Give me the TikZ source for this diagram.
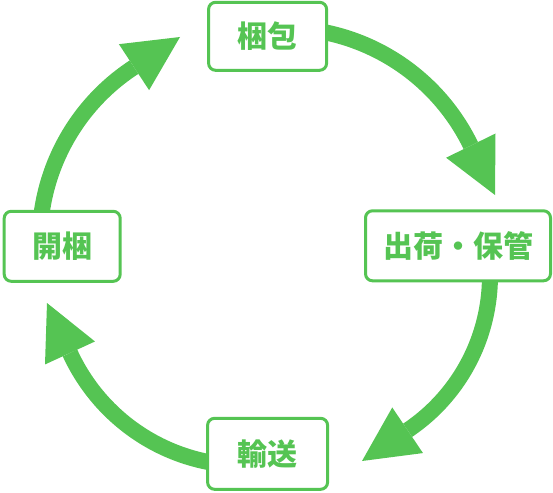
\documentclass[tikz,border=0pt]{standalone}
\usepackage{fontspec}
\newfontfamily\jp{Noto Sans CJK JP}
\usetikzlibrary{arrows.meta,backgrounds}
\definecolor{grn}{RGB}{85,196,83}
\begin{document}
\begin{tikzpicture}[x=1pt,y=-1pt,
  box/.style={draw=grn, line width=3pt, fill=white, rounded corners=7pt,
    inner sep=0pt, text=grn, font=\jp\bfseries\fontsize{30pt}{36pt}\selectfont},
  flow/.style={draw=grn, line width=16pt,
    -{Triangle[length=55pt,width=55pt,line width=0pt]}}
]
\useasboundingbox (0,0) rectangle (553,492);

\node[box, minimum width=118pt, minimum height=68pt] (pack) at (267.6,36.3) {梱包};
\node[box, minimum width=185pt, minimum height=70pt] (ship) at (458,245.8) {出荷・保管};
\node[box, minimum width=116pt, minimum height=70pt] (open) at (62.2,246.3) {開梱};
\node[box, minimum width=120pt, minimum height=71pt] (trans) at (267.6,453.8) {輸送};

% arc anchors
\coordinate (s1) at (319.3,31.2);
\coordinate (b1) at (470.5,145);
\coordinate (t1) at (495,195);
\coordinate (s2) at (489.7,266.3);
\coordinate (b2) at (408,430);
\coordinate (t2) at (362,461);
\coordinate (s3) at (221.5,464.1);
\coordinate (b3) at (70,353);
\coordinate (t3) at (47,303);
\coordinate (s4) at (40,230.5);
\coordinate (b4) at (133.5,67.5);
\coordinate (t4) at (180,37);

\begin{pgfonlayer}{background}
\draw[flow] (s1) .. controls (385.1,42.8) and (441.1,85.0) .. (b1) -- (t1);
\draw[flow] (s2) .. controls (493.1,331.5) and (462.1,393.5) .. (b2) -- (t2);
\draw[flow] (s3) .. controls (155.1,455.9) and (98.0,413.8) .. (b3) -- (t3);
\draw[flow] (s4) .. controls (43.5,164.4) and (78.2,103.8) .. (b4) -- (t4);
\end{pgfonlayer}
\end{tikzpicture}
\end{document}
